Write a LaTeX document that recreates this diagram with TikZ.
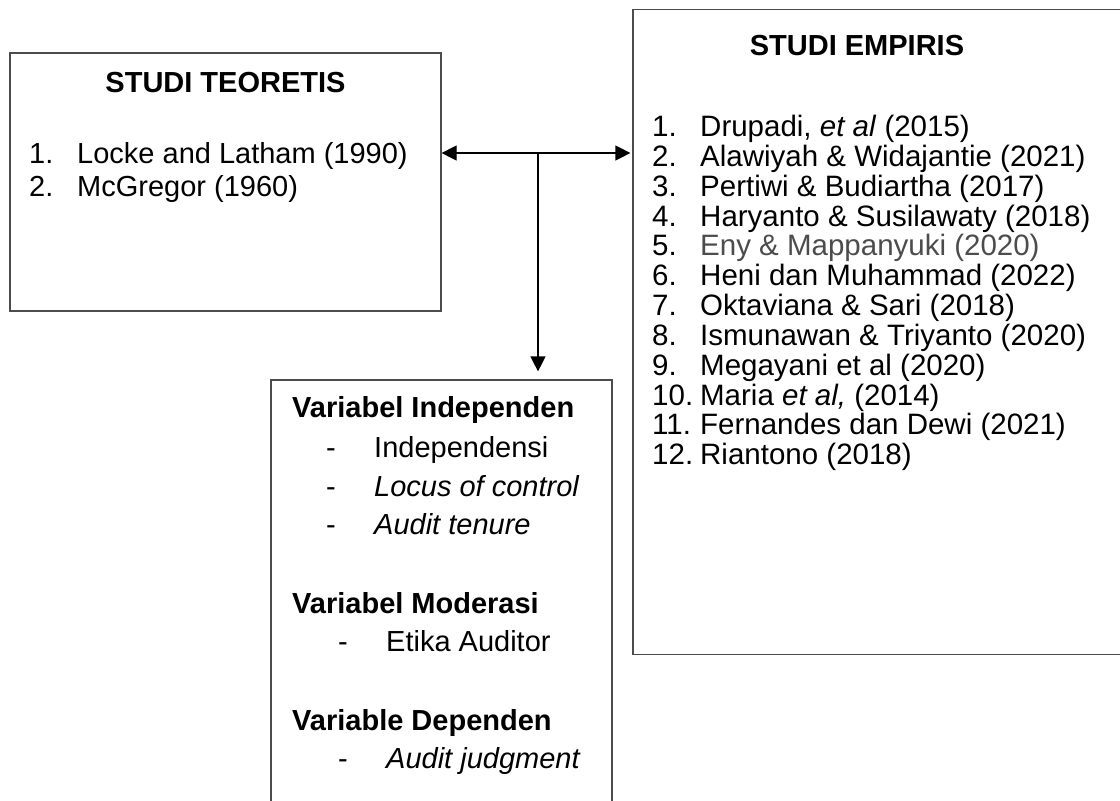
\documentclass[tikz,border=0pt]{standalone}
\usepackage{fontspec}
\setmainfont{Liberation Sans}
\usetikzlibrary{arrows.meta}

\newcommand{\itm}[2]{\makebox[48pt][l]{#1}#2}

\begin{document}
\begin{tikzpicture}[x=1pt, y=-1pt,
  box/.style={draw=black!70, line width=1.2pt, inner sep=0pt},
  txt/.style={anchor=base west, inner sep=0pt, font=\fontsize{29}{34}\selectfont},
  etxt/.style={txt, font=\fontsize{29.5}{34}\selectfont},
  hd/.style={txt, font=\fontsize{29}{34}\selectfont\bfseries},
  conn/.style={-{Triangle[length=15pt,width=15pt]}, line width=1.2pt}]
\useasboundingbox (0,0) rectangle (1120,801);
\clip (0,0) rectangle (1120,801);

% Boxes
\node[box, minimum width=431pt, minimum height=258pt] (teo) at (225.5,182) {};
\node[box, minimum width=500pt, minimum height=645pt] (emp) at (883,332) {};
\node[box, minimum width=341pt, minimum height=460pt] (var) at (441.5,610) {};

% Studi teoretis
\node[hd, anchor=base] (teoT) at (225.5,92) {STUDI TEORETIS};
\node[txt] (teo1) at (29,163) {\itm{1.}{Locke and Latham (1990)}};
\node[txt] (teo2) at (29,196) {\itm{2.}{McGregor (1960)}};

% Studi empiris
\node[hd, anchor=base] (empT) at (857,55) {STUDI EMPIRIS};
\node[etxt] (emp1) at (652,136) {\itm{1.}{Drupadi, \textit{et al} (2015)}};
\node[etxt] (emp2) at (652,166) {\itm{2.}{Alawiyah \& Widajantie (2021)}};
\node[etxt] (emp3) at (652,196) {\itm{3.}{Pertiwi \& Budiartha (2017)}};
\node[etxt] (emp4) at (652,226) {\itm{4.}{Haryanto \& Susilawaty (2018)}};
\node[etxt] (emp5) at (652,255) {\itm{5.}{\textcolor{black!70}{Eny \& Mappanyuki (2020)}}};
\node[etxt] (emp6) at (652,285) {\itm{6.}{Heni dan Muhammad (2022)}};
\node[etxt] (emp7) at (652,315) {\itm{7.}{Oktaviana \& Sari (2018)}};
\node[etxt] (emp8) at (652,345) {\itm{8.}{Ismunawan \& Triyanto (2020)}};
\node[etxt] (emp9) at (652,375) {\itm{9.}{Megayani et al (2020)}};
\node[etxt] (emp10) at (652,405) {\itm{10.}{Maria \textit{et al,} (2014)}};
\node[etxt] (emp11) at (652,434) {\itm{11.}{Fernandes dan Dewi (2021)}};
\node[etxt] (emp12) at (652,464) {\itm{12.}{Riantono (2018)}};

% Variabel
\node[hd] (indep) at (292,417) {Variabel Independen};
\node[txt] (ind1) at (326,457) {\itm{-}{Independensi}};
\node[txt] (ind2) at (326,496) {\itm{-}{\textit{Locus of control}}};
\node[txt] (ind3) at (326,534) {\itm{-}{\textit{Audit tenure}}};
\node[hd] (mod) at (292,613) {Variabel Moderasi};
\node[txt] (mod1) at (338,651) {\itm{-}{Etika Auditor}};
\node[hd] (dep) at (292,730) {Variable Dependen};
\node[txt] (dep1) at (338,768) {\itm{-}{\textit{Audit judgment}}};

% Arrows
\coordinate (hub) at (538,153);
\draw[conn] (hub) -- (hub -| teo.east);
\draw[conn, shorten >=2pt] (hub) -- (hub -| emp.west);
\draw[conn, shorten >=8pt] (hub) -- (hub |- var.north);
\end{tikzpicture}
\end{document}
